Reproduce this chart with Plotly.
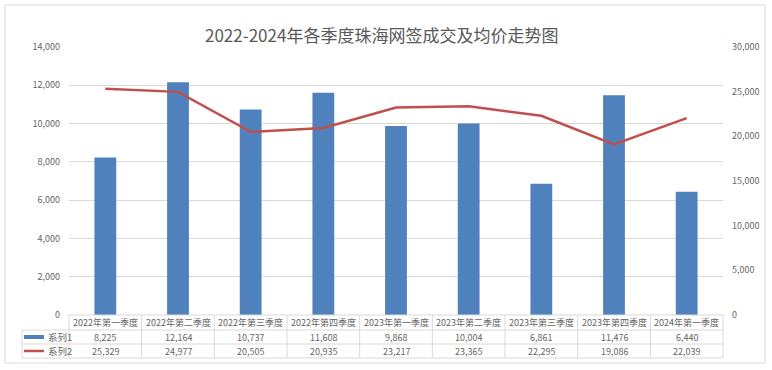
import plotly.graph_objects as go

categories = ["2022年第一季度", "2022年第二季度", "2022年第三季度", "2022年第四季度",
              "2023年第一季度", "2023年第二季度", "2023年第三季度", "2023年第四季度",
              "2024年第一季度"]
series1 = [8225, 12164, 10737, 11608, 9868, 10004, 6861, 11476, 6440]
series2 = [25329, 24977, 20505, 20935, 23217, 23365, 22295, 19086, 22039]
series_names = ["系列1", "系列2"]
title_text = "2022-2024年各季度珠海网签成交及均价走势图"

W, H = 772, 370
PL, PR, PT, PB = 69, 723, 47, 315
pw, ph = PR - PL, PB - PT

def px(x):
    return (x - PL) / pw

def py(y):
    return (PB - y) / ph

BLUE = "#4F81BD"
RED = "#C0504D"
GRID = "#D9D9D9"
TXT = "#595959"
TXT2 = "#666666"
FONT = "Noto Sans CJK SC, Liberation Sans, sans-serif"

fig = go.Figure()
fig.add_trace(go.Bar(x=categories, y=series1, name=series_names[0],
                     marker=dict(color=BLUE, line=dict(width=0)), width=0.3))
fig.add_trace(go.Scatter(x=categories, y=series2, name=series_names[1], yaxis="y2",
                         mode="lines", line=dict(color=RED, width=2.5)))

shapes = []
annotations = []
n = len(categories)
colw = pw / n
# outer border
shapes.append(dict(type="rect", xref="paper", yref="paper", x0=px(5), x1=px(765),
                   y0=py(363), y1=py(5), line=dict(color=GRID, width=1), layer="below"))
# table rows
row_y = [315, 330, 344, 358]
shapes.append(dict(type="line", xref="paper", yref="paper", x0=px(PL), x1=px(PR),
                   y0=py(row_y[0]), y1=py(row_y[0]), line=dict(color=GRID, width=1)))
for ry in row_y[1:]:
    shapes.append(dict(type="line", xref="paper", yref="paper", x0=px(22), x1=px(PR),
                       y0=py(ry), y1=py(ry), line=dict(color=GRID, width=1)))
for k in range(n + 1):
    xx = PL + k * colw
    shapes.append(dict(type="line", xref="paper", yref="paper", x0=px(xx), x1=px(xx),
                       y0=py(315), y1=py(358), line=dict(color=GRID, width=1)))
shapes.append(dict(type="line", xref="paper", yref="paper", x0=px(22), x1=px(22),
                   y0=py(330), y1=py(358), line=dict(color=GRID, width=1)))
# legend keys
shapes.append(dict(type="line", xref="paper", yref="paper", x0=px(24), x1=px(44),
                   y0=py(337), y1=py(337), line=dict(color=BLUE, width=4)))
shapes.append(dict(type="line", xref="paper", yref="paper", x0=px(24), x1=px(44),
                   y0=py(351), y1=py(351), line=dict(color=RED, width=2.5)))
annotations.append(dict(text=series_names[0], xref="paper", yref="paper", x=px(46), y=py(337),
                        xanchor="left", yanchor="middle", showarrow=False,
                        font=dict(size=9.5, color=TXT2, family=FONT)))
annotations.append(dict(text=series_names[1], xref="paper", yref="paper", x=px(46), y=py(351),
                        xanchor="left", yanchor="middle", showarrow=False,
                        font=dict(size=9.5, color=TXT2, family=FONT)))
for i, c in enumerate(categories):
    cx = px(PL + (i + 0.5) * colw)
    annotations.append(dict(text=c, xref="paper", yref="paper", x=cx, y=py(322.5),
                            xanchor="center", yanchor="middle", showarrow=False,
                            font=dict(size=9, color=TXT2, family=FONT)))
    annotations.append(dict(text=f"{series1[i]:,}", xref="paper", yref="paper", x=cx, y=py(337),
                            xanchor="center", yanchor="middle", showarrow=False,
                            font=dict(size=9, color=TXT2, family=FONT)))
    annotations.append(dict(text=f"{series2[i]:,}", xref="paper", yref="paper", x=cx, y=py(351),
                            xanchor="center", yanchor="middle", showarrow=False,
                            font=dict(size=9, color=TXT2, family=FONT)))
# title
annotations.append(dict(text=title_text, xref="paper", yref="paper", x=px(381), y=py(34),
                        xanchor="center", yanchor="middle", showarrow=False,
                        font=dict(size=17, color=TXT, family=FONT)))

fig.update_layout(
    width=W, height=H,
    margin=dict(l=PL, r=W - PR, t=PT, b=H - PB, pad=0),
    paper_bgcolor="white", plot_bgcolor="white",
    showlegend=False,
    bargap=0.7,
    font=dict(family=FONT, color=TXT, size=9),
    xaxis=dict(showticklabels=False, showgrid=False, zeroline=False, showline=False,
               ticks="", range=[-0.5, n - 0.5], fixedrange=True),
    yaxis=dict(range=[0, 14000], dtick=2000, tickformat=",", showgrid=True,
               gridcolor=GRID, gridwidth=1, zeroline=False, showline=False, ticks="",
               ticklabelstandoff=8, tickfont=dict(size=9, color=TXT2, family=FONT)),
    yaxis2=dict(range=[0, 30000], dtick=5000, tickformat=",", overlaying="y", side="right",
                showgrid=False, zeroline=False, showline=False, ticks="",
                ticklabelstandoff=8, tickfont=dict(size=9, color=TXT2, family=FONT)),
    shapes=shapes, annotations=annotations,
)

fig.write_html("out.html", config={"displayModeBar": False},
               post_script="document.body.style.margin='0';document.body.style.padding='0';")
